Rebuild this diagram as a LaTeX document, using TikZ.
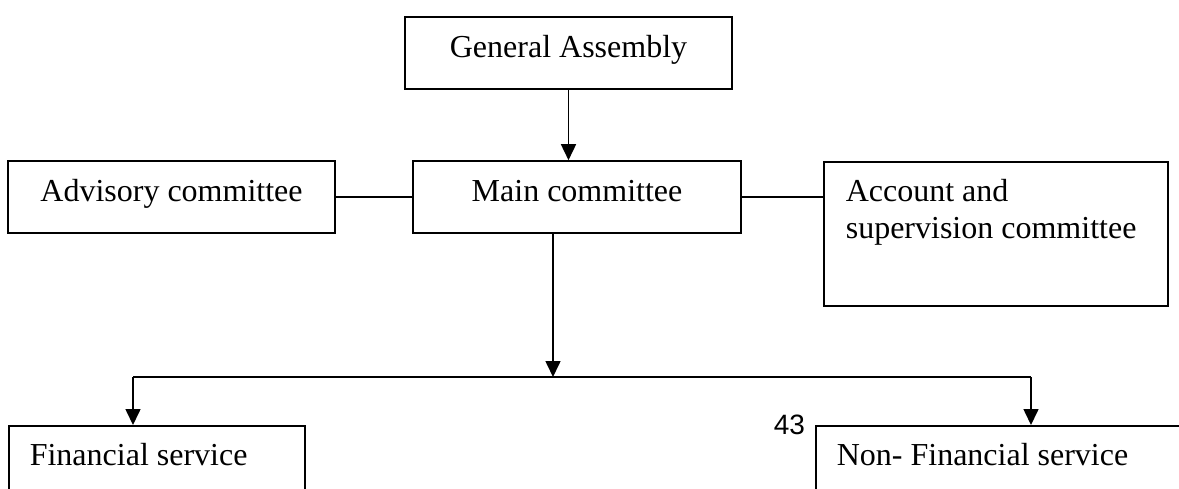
\documentclass[tikz,border=0pt]{standalone}
\usepackage{fontspec}
\setmainfont{Liberation Serif}
\newfontfamily\numfont{Liberation Sans}
\usetikzlibrary{arrows.meta,
                positioning,
                calc}

\begin{document}
\begin{tikzpicture}[x=0.5pt,y=-0.5pt,line width=0.8pt,
    font=\fontsize{16}{18.5}\selectfont,
    box/.style={draw,rectangle,minimum height=36pt,inner sep=0pt,
                text height=11pt,text depth=6.5pt},
    leftbox/.style={draw,rectangle,anchor=north west,align=left,
                    inner xsep=10.5pt,inner ysep=0pt,text height=20pt,
                    execute at begin node={\spaceskip=0pt\xspaceskip=0pt\relax}},
    arr/.style={-{Triangle[length=8pt,width=7.5pt]}}]
 \useasboundingbox (0,0) rectangle (1179,488);
 \clip (0,0) rectangle (1179,488);
 % boxes
 \node[box,minimum width=163.5pt] (ga)   at (568.5,53)  {General Assembly};
 \node[box,minimum width=164pt]   (main) at (577,197)   {Main committee};
 \node[box,minimum width=163.5pt] (adv)  at (171.5,197) {Advisory committee};
 \node[leftbox,text width=150pt,text depth=52pt,inner xsep=11pt] (acc) at (823,161)
   {Account and\\supervision committee};
 \node[leftbox,text width=127pt,text depth=40pt] (fin)    at (8,425)   {Financial service};
 \node[leftbox,text width=170pt,text depth=40pt] (nonfin) at (815,425) {Non- Financial service};
 \node[anchor=base west,inner sep=0pt,font=\numfont\fontsize{14}{16}\selectfont] (pagenum)
   at (773,434) {43};
 % connectors
 \coordinate (split) at (553,377);
 \coordinate (lt) at (133,377);
 \coordinate (rt) at (1031,377);
 \draw[arr] (ga.south) -- (ga.south |- main.north);
 \draw (adv.east) -- (main.west);
 \draw (main.east) -- (main.east -| acc.west);
 \draw[arr] (main.south -| split) -- (split);
 \draw (lt) -- (rt);
 \draw[arr] (lt) -- (lt |- fin.north);
 \draw[arr] (rt) -- (rt |- nonfin.north);
\end{tikzpicture}
\end{document}
